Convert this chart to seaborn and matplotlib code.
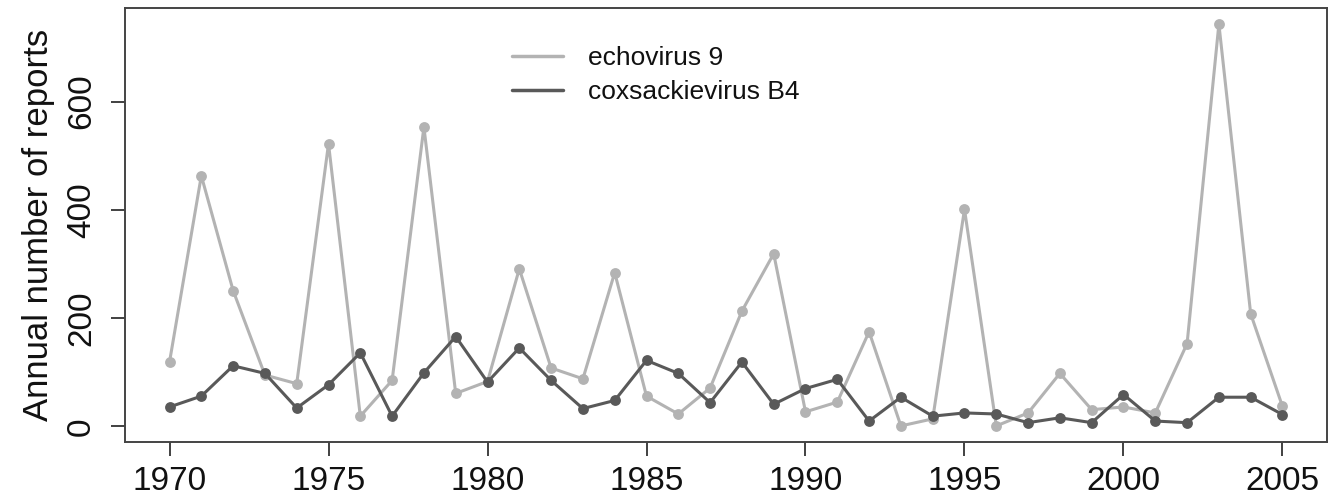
import numpy as np
import pandas as pd
import matplotlib
matplotlib.use("Agg")
import matplotlib.pyplot as plt
import seaborn as sns
from matplotlib.lines import Line2D

years = list(range(1970, 2006))
echovirus9 = [119, 463, 251, 95, 79, 522, 19, 85, 553, 61, 83, 291, 108,
              88, 284, 56, 23, 71, 213, 319, 27, 45, 175, 1, 14,
              401, 1, 25, 98, 31, 36, 25, 153, 743, 208, 37]
coxsackieB4 = [36, 56, 112, 98, 34, 77, 136, 19, 99, 166, 82, 145, 85,
               33, 48, 122, 98, 44, 119, 41, 70, 87, 10, 54, 19,
               25, 23, 7, 16, 7, 59, 10, 7, 54, 54, 22]
series_names = ["echovirus 9", "coxsackievirus B4"]
x_ticks = [1970, 1975, 1980, 1985, 1990, 1995, 2000, 2005]
y_ticks = [0, 200, 400, 600]

df = pd.DataFrame({
    "year": years * 2,
    "reports": echovirus9 + coxsackieB4,
    "virus": [series_names[0]] * len(years) + [series_names[1]] * len(years),
})

sns.set_style("white")
plt.rcParams["font.family"] = ["Liberation Sans", "DejaVu Sans"]
plt.rcParams["text.color"] = "#111111"
plt.rcParams["xtick.color"] = "#111111"
plt.rcParams["ytick.color"] = "#111111"
plt.rcParams["axes.labelcolor"] = "#111111"

fig = plt.figure(figsize=(13.41, 5.01), dpi=100)
ax = fig.add_axes([125 / 1341, (501 - 442) / 501, (1327 - 125) / 1341, (442 - 8) / 501])

palette = {series_names[0]: "#b3b3b3", series_names[1]: "#595959"}
sns.lineplot(data=df, x="year", y="reports", hue="virus", palette=palette,
             marker="o", markersize=7.8, markeredgewidth=0, linewidth=2.2,
             ax=ax, legend=False)

ax.set_xlim(1968.6, 2006.4)
ax.set_ylim(-28.7, 772.7)
ax.set_xticks(x_ticks)
ax.set_yticks(y_ticks)
ax.set_xticklabels([str(t) for t in x_ticks], fontsize=24)
ax.set_yticklabels([str(t) for t in y_ticks], fontsize=24, rotation=90, va="center")
ax.set_xlabel("")
ax.set_ylabel("Annual number of reports", fontsize=25, labelpad=8)

ax.tick_params(axis="both", which="both", direction="out", length=10, width=1.3,
               color="#333333", bottom=True, left=True)
ax.tick_params(axis="x", pad=7)
ax.tick_params(axis="y", pad=10)
for s in ax.spines.values():
    s.set_visible(True)
    s.set_color("#444444")
    s.set_linewidth(1.4)

handles = [Line2D([], [], color=palette[n], linewidth=2.5) for n in series_names]
ax.legend(handles, series_names, loc="center left", bbox_to_anchor=(0.302, 0.8456),
          frameon=False, fontsize=19, handlelength=1.93, handletextpad=0.95,
          labelspacing=0.36, borderpad=0.4)

fig.savefig("out.png", dpi=100)
